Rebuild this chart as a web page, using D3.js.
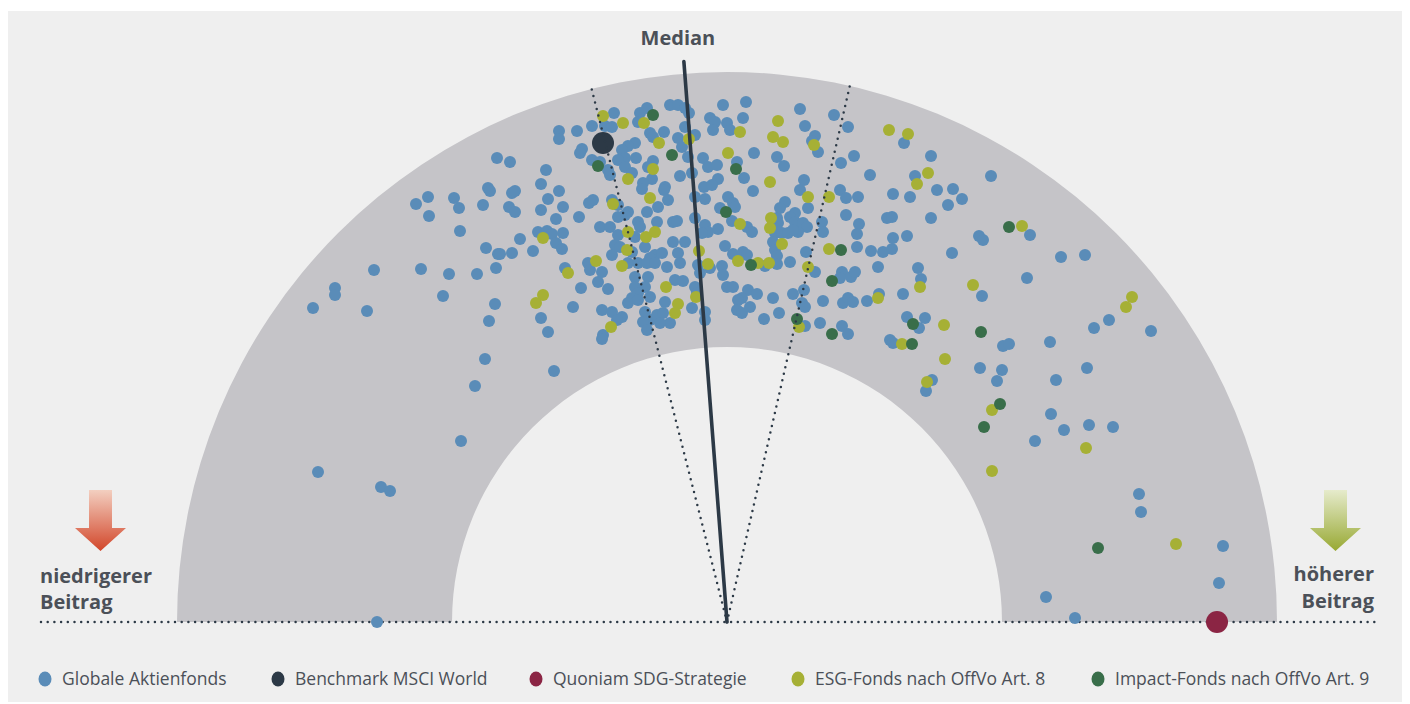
<!DOCTYPE html>
<html>
<head>
<meta charset="utf-8">
<script src="https://d3js.org/d3.v7.min.js"></script>
<style>
  body { margin: 0; background: #ffffff; }
  text { font-family: "Open Sans", "Noto Sans", sans-serif; }
</style>
</head>
<body>
<div id="chart"></div>
<script>
// data: x = position left (niedriger) to right (höher), y = height above base line
var globalFunds = [
  [32.0,46.4],[31.1,43.4],[31.3,43.1],[25.1,42.5],[23.9,41.8],[27.7,42.4],[28.2,41.4],[30.6,41.7],[25.2,40.6],[28.3,39.1],
  [30.9,37.4],[32.1,36.8],[31.9,35.4],[19.7,35.2],[24.4,35.3],[27.2,34.8],[30.0,34.8],[15.8,33.4],[15.8,32.7],[13.6,31.4],
  [19.0,31.1],[26.6,32.6],[31.8,31.8],[31.2,30.1],[30.8,26.3],[29.8,23.6],[28.4,18.1],[14.1,15.0],[20.4,13.5],[21.3,13.1],
  [20.0,0.0],
  [38.2,49.1],[38.2,48.3],[40.0,49.1],[41.5,49.6],[40.5,47.3],[40.3,46.9],[41.5,46.2],[33.3,46.0],[36.9,45.2],[36.4,43.8],
  [33.5,42.9],[33.8,43.1],[38.2,43.1],[37.1,42.3],[33.2,41.5],[33.8,41.0],[36.4,41.2],[38.6,41.5],[41.2,41.9],[37.9,40.3],
  [40.2,40.5],[34.3,38.3],[36.1,39.0],[37.0,39.1],[37.5,38.8],[38.6,38.9],[37.9,37.9],[38.5,37.3],[32.3,36.8],[33.5,36.9],
  [35.6,37.1],[38.8,35.4],[41.1,35.9],[41.3,35.2],[40.4,33.4],[39.6,31.5],[36.4,30.4],[37.1,29.0],[37.7,25.1],
  [43.7,50.9],[42.8,49.6],[43.5,49.5],[46.3,50.9],[47.0,51.4],[46.1,50.0],[47.3,48.9],[47.6,48.5],[48.7,49.0],[49.3,51.7],
  [50.1,51.7],[50.8,51.4],[51.2,50.9],[50.8,49.5],[51.8,48.7],[50.1,48.4],[45.8,47.9],[45.1,47.6],[50.5,47.5],[51.1,46.5],
  [52.6,46.4],[44.5,47.2],[44.8,46.4],[44.1,46.2],[42.3,46.0],[45.9,46.4],[47.6,46.1],[47.1,45.5],[44.8,45.5],[45.5,44.9],
  [43.3,44.7],[43.1,45.2],[47.5,44.3],[50.3,44.6],[51.5,44.9],[46.6,43.9],[46.5,43.3],[48.8,43.5],[48.7,43.2],[52.7,43.5],
  [52.8,42.3],[51.8,42.5],[41.6,42.2],[43.5,42.2],[49.1,42.2],[48.1,41.5],[47.0,41.0],[44.1,41.7],[45.1,41.0],[44.8,40.7],
  [44.1,40.5],[49.6,40.0],[50.0,40.1],[42.3,39.5],[43.3,39.5],[46.1,40.0],[46.3,39.5],[48.0,40.0],[44.1,38.7],[45.8,38.5],
  [51.8,40.4],[52.8,39.7],[53.1,39.0],[52.5,38.9],[49.6,38.0],[50.8,38.0],[43.8,37.7],[44.3,37.5],[46.8,37.5],[43.5,36.7],
  [45.5,37.0],[47.8,36.7],[47.3,36.4],[48.5,36.9],[50.1,36.9],[50.3,35.9],[42.5,35.0],[45.1,35.9],[46.1,35.9],[47.0,35.9],
  [47.8,35.9],[49.0,35.5],[52.1,35.7],[52.3,34.9],[45.8,34.5],[47.1,34.5],[42.1,34.0],[43.1,33.3],[49.8,34.2],[50.6,34.1],
  [45.8,33.5],[46.8,33.5],[46.1,32.9],[47.3,32.5],[51.8,33.5],[52.0,32.9],[45.5,32.4],[45.1,31.9],[46.1,32.2],[48.8,32.0],
  [51.5,31.4],[52.8,31.0],[52.8,30.2],[42.5,31.2],[43.5,31.0],[44.5,30.5],[44.0,30.2],[46.8,31.0],[47.3,30.2],[46.6,30.0],
  [48.0,30.7],[48.6,30.9],[49.3,29.9],[48.3,29.9],[42.6,28.7],[42.5,28.3],[47.0,29.2],
  [54.6,51.7],[56.9,52.0],[53.3,50.4],[53.8,50.0],[53.6,49.2],[55.0,49.9],[55.3,49.2],[56.6,50.4],[62.3,51.3],[62.8,49.6],
  [63.8,48.6],[63.5,48.1],[64.1,47.0],[65.7,50.7],[53.1,45.5],[54.0,45.7],[56.0,46.0],[57.7,46.9],[60.0,46.5],[60.7,45.6],
  [56.7,44.4],[54.1,44.3],[53.5,43.7],[62.7,44.2],[62.3,43.2],[57.6,43.1],[55.1,42.5],[55.6,41.9],[55.8,41.5],[54.3,41.4],
  [60.8,42.0],[60.3,41.4],[61.8,40.9],[61.3,40.5],[63.1,41.4],[54.1,39.3],[55.5,40.1],[57.0,39.5],[57.5,39.0],[60.0,40.4],
  [60.1,39.9],[61.8,40.0],[62.6,39.9],[63.0,39.5],[62.1,39.0],[59.8,38.9],[60.5,38.9],[61.1,38.9],[61.6,39.2],[64.5,40.0],
  [64.6,39.0],[59.6,38.0],[54.8,37.6],[55.6,36.8],[56.6,37.0],[57.0,36.7],[59.8,37.2],[60.0,36.6],[62.9,37.0],[53.3,35.4],
  [54.5,35.6],[54.6,34.7],[58.8,35.6],[60.0,35.8],[61.3,36.0],[63.8,35.0],[55.0,33.5],[55.6,33.5],[57.1,33.2],[58.0,32.8],
  [56.5,32.4],[56.1,32.2],[59.6,32.4],[61.6,32.8],[62.7,33.2],[62.5,31.9],[62.8,31.5],[64.6,32.1],[56.0,31.2],[56.5,30.9],
  [57.3,31.5],[60.2,30.9],[58.7,30.3],[62.8,29.6],[64.3,29.9],
  [67.1,49.5],[72.7,47.9],[67.7,46.6],[66.4,45.9],[75.4,46.6],[69.3,44.7],[73.8,44.6],[81.4,44.6],[66.3,43.2],[66.9,42.4],
  [68.1,42.5],[71.6,42.8],[73.3,42.5],[76.0,43.2],[77.6,43.3],[78.5,42.3],[77.1,41.7],[66.9,40.7],[68.2,39.8],[68.0,38.8],
  [71.0,40.4],[71.5,40.5],[75.4,40.4],[71.6,38.4],[73.0,38.6],[80.2,38.6],[80.6,38.2],[68.0,37.5],[69.4,37.1],[70.6,37.0],
  [71.5,37.3],[77.5,36.9],[70.1,35.5],[74.1,35.4],[74.4,34.3],[66.5,35.0],[66.3,34.4],[67.4,34.5],[67.8,35.0],[66.6,31.9],
  [67.1,32.4],[67.6,32.0],[69.0,32.1],[70.2,32.8],[72.6,32.8],[80.5,32.6],[73.0,30.5],[74.2,29.4],[74.8,30.4],[66.5,29.6],
  [67.1,28.8],[71.3,28.2],[71.6,27.9],[80.3,25.4],[75.5,24.2],[74.9,23.1],
  [85.3,38.7],[88.4,36.5],[90.8,36.7],[85.0,34.4],[93.2,30.2],[91.7,29.4],[97.4,29.1],[82.6,27.6],[83.2,27.8],[87.3,28.0],
  [82.5,25.2],[82.0,24.1],[87.9,24.2],[91.0,25.4],[87.4,20.8],[88.7,19.2],[85.8,18.1],[91.2,19.7],[93.6,19.5],[96.2,12.8],
  [96.4,11.0],[104.6,7.6],[104.2,3.9],[86.9,2.5],[89.8,0.4]
];

var esgFunds = [
  [36.6,38.4],[39.1,34.9],[36.6,32.7],[35.9,31.9],
  [42.6,50.6],[44.6,49.9],[46.7,49.9],[51.2,48.3],[48.2,47.9],[47.6,45.3],[45.1,44.3],[43.6,41.8],[47.3,42.4],[45.1,39.0],
  [46.9,38.5],[47.8,39.0],[45.0,37.2],[52.2,37.1],[53.1,35.8],[41.9,36.1],[44.5,35.6],[48.9,33.5],[51.9,32.5],[50.1,31.8],
  [49.8,30.9],[43.4,29.5],
  [56.3,49.0],[60.1,50.1],[59.6,48.5],[60.6,48.0],[63.7,47.7],[55.1,46.9],[59.3,44.0],[63.1,42.5],[65.2,42.5],[56.3,39.8],
  [59.4,40.4],[59.3,39.4],[60.5,37.8],[65.2,37.3],[56.1,36.1],[58.1,35.9],[59.2,35.9],[63.1,35.5],[62.2,29.5],
  [71.2,49.2],[73.1,48.8],[75.1,44.9],[74.0,43.8],[74.3,33.5],[70.1,32.4],[79.6,33.7],[76.7,29.7],[72.5,27.8],[76.8,26.3],
  [75.0,24.0],[81.5,21.2],[81.5,15.1],
  [84.5,39.6],[95.5,32.5],[94.9,31.5],[90.9,17.4],[99.9,7.8]
];

var impactFunds = [
  [47.6,50.7],[49.5,46.7],[42.1,45.6],
  [55.9,45.3],[54.9,41.0],[57.4,35.7],[65.5,34.1],[62.0,30.3],[65.5,28.8],
  [66.4,37.2],[73.6,29.8],[80.4,29.0],[73.5,27.8],[82.3,21.8],[80.7,19.5],
  [83.2,39.5],[92.1,7.4]
];

var benchmark = [[42.6,47.9]];
var quoniam = [[104.0,0.0]];

// rays from the centre: degrees from vertical, length in data units
var medianRay = { angle: -4.4, length: 56.2 };
var bandRays = [{ angle: -14.25, length: 55 }, { angle: 12.9, length: 55 }];

var legendLabels = ["Globale Aktienfonds", "Benchmark MSCI World", "Quoniam SDG-Strategie",
  "ESG-Fonds nach OffVo Art. 8", "Impact-Fonds nach OffVo Art. 9"];

var colors = {
  global: "#5a8cb8",
  bench: "#2c3946",
  quoniam: "#8b2544",
  esg: "#a6b035",
  impact: "#396e4a"
};
var legendColors = [colors.global, colors.bench, colors.quoniam, colors.esg, colors.impact];
var legendX = [45, 278, 536, 798, 1098];

var width = 1410, height = 704;

var x = d3.scaleLinear().domain([0, 110]).range([177, 1277]);
var y = d3.scaleLinear().domain([0, 55]).range([622, 72]);
var r = d3.scaleLinear().domain([0, 55]).range([0, 550]);

var cx = x(55), cy = y(0);

var svg = d3.select("#chart").append("svg")
  .attr("width", width)
  .attr("height", height);

// panel
svg.append("rect")
  .attr("x", 8).attr("y", 11)
  .attr("width", 1394).attr("height", 691)
  .attr("fill", "#efefef");

// half ring
var ring = d3.arc()
  .innerRadius(r(27.5))
  .outerRadius(r(55))
  .startAngle(-Math.PI / 2)
  .endAngle(Math.PI / 2);

svg.append("path")
  .attr("d", ring())
  .attr("transform", "translate(" + cx + "," + cy + ")")
  .attr("fill", "#c5c4c8");

// base line
svg.append("line")
  .attr("x1", 41).attr("x2", 1376)
  .attr("y1", cy).attr("y2", cy)
  .attr("stroke", "#2c3946")
  .attr("stroke-width", 2.5)
  .attr("stroke-linecap", "round")
  .attr("stroke-dasharray", "0 6.7");

function addDots(data, color, radius) {
  svg.append("g").selectAll("circle")
    .data(data)
    .enter().append("circle")
    .attr("cx", function(d) { return x(d[0]); })
    .attr("cy", function(d) { return y(d[1]); })
    .attr("r", radius)
    .attr("fill", color);
}

addDots(globalFunds, colors.global, 6);
addDots(esgFunds, colors.esg, 6);
addDots(impactFunds, colors.impact, 6);
addDots(benchmark, colors.bench, 11);
addDots(quoniam, colors.quoniam, 11);

function rayEnd(ray) {
  var a = ray.angle * Math.PI / 180;
  return [cx + r(ray.length) * Math.sin(a), cy - r(ray.length) * Math.cos(a)];
}

// dotted band lines
bandRays.forEach(function(ray) {
  var e = rayEnd(ray);
  svg.append("line")
    .attr("x1", cx).attr("y1", cy)
    .attr("x2", e[0]).attr("y2", e[1])
    .attr("stroke", "#2c3946")
    .attr("stroke-width", 2.5)
    .attr("stroke-linecap", "round")
    .attr("stroke-dasharray", "0 6.7");
});

// median line
var me = rayEnd(medianRay);
svg.append("line")
  .attr("x1", cx).attr("y1", cy)
  .attr("x2", me[0]).attr("y2", me[1])
  .attr("stroke", "#2c3946")
  .attr("stroke-width", 3.6)
  .attr("stroke-linecap", "round");

svg.append("text")
  .attr("x", me[0] - 6).attr("y", 45)
  .attr("text-anchor", "middle")
  .attr("font-size", 20).attr("font-weight", 700)
  .attr("fill", "#4b5058")
  .text("Median");

// arrows
var defs = svg.append("defs");
function gradient(id, top, bottom) {
  var g = defs.append("linearGradient").attr("id", id)
    .attr("x1", 0).attr("x2", 0).attr("y1", 0).attr("y2", 1);
  g.append("stop").attr("offset", "0%").attr("stop-color", top);
  g.append("stop").attr("offset", "100%").attr("stop-color", bottom);
}
gradient("gradRed", "#f3cfc0", "#d2462a");
gradient("gradGreen", "#e6ebcc", "#98a933");

function arrow(ax, fill) {
  var pts = [[ax - 11.5, 490], [ax + 11.5, 490], [ax + 11.5, 528], [ax + 25.5, 528],
    [ax, 551], [ax - 25.5, 528], [ax - 11.5, 528]];
  svg.append("path")
    .attr("d", d3.line()(pts) + "Z")
    .attr("fill", fill);
}
arrow(100.5, "url(#gradRed)");
arrow(1335.5, "url(#gradGreen)");

var sideLabels = svg.append("g")
  .attr("font-size", 20).attr("font-weight", 700)
  .attr("fill", "#4b5058");
sideLabels.append("text").attr("x", 40).attr("y", 583).text("niedrigerer");
sideLabels.append("text").attr("x", 40).attr("y", 609).text("Beitrag");
sideLabels.append("text").attr("x", 1374).attr("y", 581).attr("text-anchor", "end").text("höherer");
sideLabels.append("text").attr("x", 1374).attr("y", 608).attr("text-anchor", "end").text("Beitrag");

// legend
var legend = svg.append("g").selectAll("g")
  .data(legendLabels)
  .enter().append("g")
  .attr("transform", function(d, i) { return "translate(" + legendX[i] + ",679)"; });

legend.append("ellipse")
  .attr("rx", 6.5).attr("ry", 7.5)
  .attr("fill", function(d, i) { return legendColors[i]; });

legend.append("text")
  .attr("x", 17).attr("y", 6)
  .attr("font-size", 17.5)
  .attr("fill", "#4b5058")
  .text(function(d) { return d; });
</script>
</body>
</html>
